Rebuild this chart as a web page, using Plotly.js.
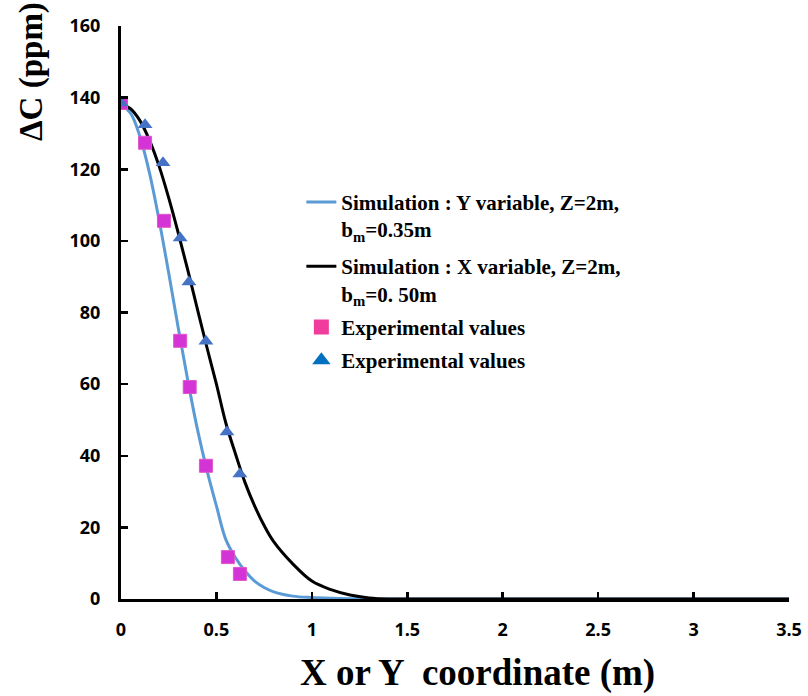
<!DOCTYPE html>
<html>
<head>
<meta charset="utf-8">
<script src="https://cdn.plot.ly/plotly-3.0.1.min.js"></script>
<style>html,body{margin:0;padding:0;background:#fff;}#chart{width:808px;height:696px;}</style>
</head>
<body>
<div id="chart"></div>
<script>
// Simulation curves
const simX = [0, 0.05, 0.1, 0.15, 0.2, 0.25, 0.3, 0.35, 0.4, 0.45, 0.5, 0.55, 0.6, 0.65, 0.7, 0.75, 0.8, 0.9, 1.0, 1.1, 1.2, 1.3, 1.4, 1.5, 2.0, 2.5, 3.0, 3.5];
const simY_Yvar = [138, 135.7, 129, 118.8, 105.7, 91, 75.7, 61, 47.5, 36, 26, 16.5, 11.5, 7.8, 5.0, 3.2, 2.0, 0.8, 0.4, 0.2, 0.1, 0, 0, 0, 0, 0, 0, 0];
const simY_Xvar = [138, 136.9, 133.5, 128, 120.8, 112, 102.2, 91.8, 81, 70.3, 60, 49, 40.5, 32.5, 26, 20.5, 16.0, 9.8, 5.0, 2.6, 1.1, 0.3, 0, 0, 0, 0, 0, 0];
// Experimental values
const expSqX = [0, 0.126, 0.225, 0.31, 0.36, 0.445, 0.56, 0.623];
const expSqY = [138.5, 127.4, 105.6, 72.1, 59.2, 37.2, 11.7, 7.0];
const expTriX = [0, 0.126, 0.22, 0.31, 0.356, 0.445, 0.555, 0.623];
const expTriY = [138.5, 132.4, 121.8, 100.8, 88.5, 72, 46.6, 34.9];
// Labels
const xTicks = [0, 0.5, 1, 1.5, 2, 2.5, 3, 3.5];
const xTickText = ['0', '0.5', '1', '1.5', '2', '2.5', '3', '3.5'];
const yTicks = [0, 20, 40, 60, 80, 100, 120, 140, 160];
const nameY = '<b>Simulation : Y variable, Z=2m,</b><br><b>b<sub>m</sub>=0.35m</b>';
const nameX = '<b>Simulation : X variable, Z=2m,</b><br><b>b<sub>m</sub>=0. 50m</b>';
const nameExp = '<b>Experimental values</b>';
const xTitle = '<b>X or Y  coordinate (m)</b>';
const yTitle = '<b>ΔC (ppm)</b>';

const traces = [
  {x: simX, y: simY_Yvar, mode: 'lines', name: nameY, legend: 'legend', line: {color: '#5b9bd5', width: 3, shape: 'spline'}},
  {x: simX, y: simY_Xvar, mode: 'lines', name: nameX, legend: 'legend2', line: {color: '#000000', width: 3, shape: 'spline'}},
  {x: expSqX, y: expSqY, mode: 'markers', name: nameExp, showlegend: false,
   marker: {symbol: 'square', size: 13, color: '#d433d6', line: {color: '#e055c8', width: 1}}},
  {x: expTriX, y: expTriY, mode: 'markers', name: nameExp, showlegend: false,
   marker: {symbol: 'triangle-up', size: 13, color: '#4472c4', line: {width: 0}}},
  {x: [null], y: [null], mode: 'markers', name: nameExp, legend: 'legend3',
   marker: {symbol: 'square', size: 15, color: '#f03c9c'}},
  {x: [null], y: [null], mode: 'markers', name: nameExp, legend: 'legend4',
   marker: {symbol: 'triangle-up', size: 17, color: '#0070c0'}}
];

const legFont = {family: 'Liberation Serif', size: 21, color: '#000'};
function leg(y) {
  return {x: 0.27, y: y, xanchor: 'left', yanchor: 'top', font: legFont,
          bgcolor: 'rgba(0,0,0,0)', valign: 'top', itemwidth: 30, tracegroupgap: 0};
}
const tickFont = {family: 'Open Sans, DejaVu Sans, sans-serif', size: 18, color: '#000', weight: 'bold'};
const layout = {
  width: 808, height: 696,
  margin: {l: 121, r: 19, t: 26, b: 97},
  paper_bgcolor: '#fff', plot_bgcolor: '#fff',
  showlegend: true,
  legend: leg(0.728), legend2: leg(0.616), legend3: leg(0.510), legend4: leg(0.452),
  xaxis: {
    range: [0, 3.5], tickvals: xTicks, ticktext: xTickText,
    showline: true, linecolor: '#000', linewidth: 3, zeroline: false, showgrid: false,
    ticks: 'inside', ticklen: 7, tickwidth: 2.5, tickcolor: '#000',
    tickfont: tickFont, ticklabelstandoff: 12
  },
  yaxis: {
    range: [0, 160], tickvals: yTicks,
    showline: true, linecolor: '#000', linewidth: 3, zeroline: false, showgrid: false,
    ticks: 'inside', ticklen: 7, tickwidth: 2.5, tickcolor: '#000',
    tickfont: tickFont, ticklabelstandoff: 14
  },
  annotations: [
    {text: yTitle, xref: 'paper', yref: 'paper', x: -0.135, y: 0.921, textangle: -90,
     showarrow: false, xanchor: 'center', yanchor: 'middle',
     font: {family: 'Liberation Serif', size: 33, color: '#000'}},
    {text: xTitle, xref: 'paper', yref: 'paper', x: 0.533, y: -0.129,
     showarrow: false, xanchor: 'center', yanchor: 'middle',
     font: {family: 'Liberation Serif', size: 37, color: '#000'}}
  ]
};

Plotly.newPlot('chart', traces, layout, {displayModeBar: false, staticPlot: true});
</script>
</body>
</html>
